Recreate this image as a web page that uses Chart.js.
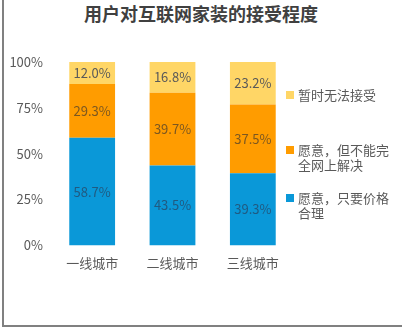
<!DOCTYPE html>
<html>
<head>
<meta charset="utf-8">
<script src="https://cdn.jsdelivr.net/npm/chart.js@4"></script>
<style>
  html, body { margin: 0; padding: 0; background: #fff; }
  #wrap { position: relative; width: 402px; height: 328px; overflow: hidden; }
  #frame { position: absolute; left: 2px; top: 0; width: 400px; height: 327px;
           border-left: 2px solid #808080; border-bottom: 2px solid #808080; box-sizing: border-box; }
  #chart { position: absolute; left: 0; top: 0; }
  #title { position: absolute; left: 0; top: 1px; width: 402px; text-align: center;
           font-family: "Noto Sans CJK SC", sans-serif; font-size: 18px; font-weight: bold; color: #404040; line-height: 24px; }
  #legend { position: absolute; left: 286px; top: 0; width: 112px;
            font-family: "Noto Sans CJK SC", sans-serif; font-size: 13px; color: #595959; }
  #legend .item { position: absolute; left: 0; display: flex; align-items: flex-start; line-height: 15px; }
  #legend .box { width: 8px; height: 8px; margin-top: 4px; margin-right: 4px; flex: none; }
</style>
</head>
<body>
<div id="wrap">
  <div id="frame"></div>
  <div id="title">用户对互联网家装的接受程度</div>
  <canvas id="chart" width="402" height="328"></canvas>
  <div id="legend"></div>
</div>
<script>
const ciudades = ["一线城市", "二线城市", "三线城市"];
const precioRazonable = [58.7, 43.5, 39.3];
const noCompleto = [29.3, 39.7, 37.5];
const noAcepta = [12.0, 16.8, 23.2];
const yTicks = [0, 25, 50, 75, 100];

const series = [
  { label: "愿意，只要价格合理", legend: ["愿意，只要价格", "合理"], data: precioRazonable, color: "#0A98D8", top: 190 },
  { label: "愿意，但不能完全网上解决", legend: ["愿意，但不能完", "全网上解决"], data: noCompleto, color: "#FF9C00", top: 142 },
  { label: "暂时无法接受", legend: ["暂时无法接受"], data: noAcepta, color: "#FFD666", top: 87 }
];

// etiquetas de valor dentro de cada segmento
const etiquetas = {
  id: "etiquetas",
  afterDatasetsDraw(chart) {
    const ctx = chart.ctx;
    ctx.save();
    ctx.font = "13px 'Noto Sans CJK SC', sans-serif";
    ctx.textAlign = "center";
    ctx.textBaseline = "middle";
    chart.data.datasets.forEach((ds, i) => {
      chart.getDatasetMeta(i).data.forEach((bar, j) => {
        const p = bar.getProps(["x", "y", "base"], true);
        ctx.fillStyle = i === 0 ? "rgba(40,70,100,0.75)" : i === 1 ? "rgba(90,70,40,0.8)" : "#595959";
        ctx.fillText(ds.data[j].toFixed(1) + "%", p.x, (p.y + p.base) / 2);
      });
    });
    ctx.restore();
  }
};

new Chart(document.getElementById("chart"), {
  type: "bar",
  data: {
    labels: ciudades,
    datasets: series.map(s => ({
      label: s.label,
      data: s.data,
      backgroundColor: s.color,
      borderWidth: 0,
      categoryPercentage: 1,
      barPercentage: 0.57
    }))
  },
  options: {
    responsive: false,
    animation: false,
    layout: { padding: { left: 0, right: 109, top: 62, bottom: 55 } },
    plugins: {
      legend: { display: false },
      tooltip: { enabled: false }
    },
    scales: {
      x: {
        stacked: true,
        grid: { display: false },
        border: { display: false },
        ticks: { color: "#595959", font: { family: "'Noto Sans CJK SC', sans-serif", size: 13 }, padding: 2 }
      },
      y: {
        stacked: true,
        min: 0,
        max: 100,
        grid: { display: false, drawTicks: false },
        border: { display: false },
        afterBuildTicks: axis => { axis.ticks = yTicks.map(v => ({ value: v })); },
        afterFit: axis => { axis.width = 52; },
        ticks: {
          color: "#595959",
          font: { family: "'Noto Sans CJK SC', sans-serif", size: 13 },
          padding: 9,
          callback: v => v + "%"
        }
      }
    }
  },
  plugins: [etiquetas]
});

// leyenda a la derecha, de arriba hacia abajo
const legend = document.getElementById("legend");
series.slice().reverse().forEach(s => {
  const item = document.createElement("div");
  item.className = "item";
  item.style.top = s.top + "px";
  item.innerHTML = `<span class="box" style="background:${s.color}"></span><span>${s.legend.join("<br>")}</span>`;
  legend.appendChild(item);
});
</script>
</body>
</html>
